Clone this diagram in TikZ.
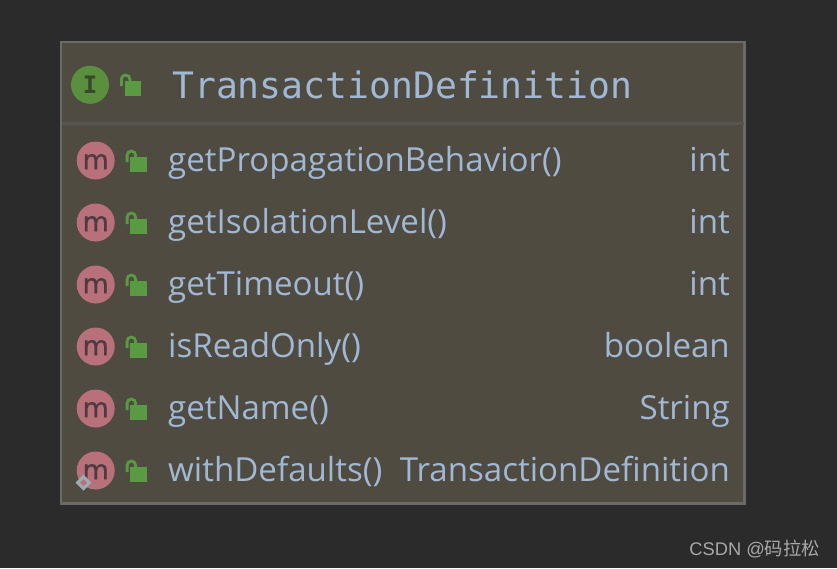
\documentclass[tikz,border=0pt]{standalone}
\usepackage{fontspec}
\usetikzlibrary{shapes.geometric}
\setmainfont{Open Sans}
\newfontfamily\titlefont{DejaVu Sans Mono}
\newfontfamily\badgefont[FakeBold=0.6]{DejaVu Sans}
\newfontfamily\wmfont{Liberation Sans}
\newfontfamily\cjkfont{Noto Sans CJK SC}
\definecolor{pagebg}{HTML}{2B2B2B}
\definecolor{panelbg}{HTML}{4F4B41}
\definecolor{panelline}{HTML}{6A6B66}
\definecolor{sepline}{HTML}{555652}
\definecolor{txt}{HTML}{A0B8D4}
\definecolor{igreen}{HTML}{5A8F3E}
\definecolor{idark}{HTML}{38482E}
\definecolor{mpink}{HTML}{B8707A}
\definecolor{mdark}{HTML}{4F3B3F}
\definecolor{lockgreen}{HTML}{5A9A42}
\definecolor{wm}{HTML}{A8A8A8}
\definecolor{diam}{HTML}{9FABB3}
\tikzset{
  x=1pt,y=-1pt,
  rowtext/.style={inner sep=0pt,text=txt,font=\fontsize{33.1}{33}\selectfont,anchor=base west},
  rowtype/.style={inner sep=0pt,text=txt,font=\fontsize{33.1}{33}\selectfont,anchor=base east},
  mbadge/.style={circle,fill=mpink,minimum size=38pt,inner sep=0pt,text=mdark},
  lock/.pic={
    \fill[lockgreen] (-4.5,-3.7) rectangle (12.3,10.5);
    \draw[lockgreen,line width=2.8pt] (-7.6,1.2) -- (-7.6,-5.75) arc[start angle=180,end angle=0,x radius=4.25,y radius=-4.25] -- (0.9,-2);
  }
}
\newcommand{\methodrow}[4]{%
  \node[mbadge] (m#1) at (95.7,#2-0.5) {};
  \node[inner sep=0pt,anchor=base,text=mdark,font=\badgefont\fontsize{27}{27}\selectfont] (mt#1) at (95.7,#2+8.2) {m};
  \pic at (134.7,#2) {lock};
  \node[rowtext] (n#1) at (168,#2+10.8) {#3};
  \node[rowtype] (t#1) at (730,#2+10.8) {#4};
}
\begin{document}
\begin{tikzpicture}
\fill[pagebg] (0,0) rectangle (837,568);
\useasboundingbox (0,0) rectangle (837,568);
\node[draw=panelline,fill=panelbg,line width=2.5pt,outer sep=0pt,minimum width=683.5pt,minimum height=461.5pt,inner sep=0pt,anchor=north west] (panel) at (61,42) {};
\draw[sepline,line width=2.5pt] (62,123.5) -- (744,123.5);
\node[circle,fill=igreen,minimum size=38pt,inner sep=0pt,text=idark,font=\titlefont\bfseries\fontsize{24}{24}\selectfont] (ibadge) at (90,84.8) {I};
\pic at (129,85) {lock};
\node[inner sep=0pt,anchor=base west,text=txt,font=\titlefont\fontsize{36.4}{36}\selectfont] (title) at (172,98) {TransactionDefinition};
\methodrow{1}{161}{getPropagationBehavior()}{int}
\methodrow{2}{223}{getIsolationLevel()}{int}
\methodrow{3}{285}{getTimeout()}{int}
\methodrow{4}{347}{isReadOnly()}{boolean}
\methodrow{5}{409}{getName()}{String}
\methodrow{6}{471}{withDefaults()}{TransactionDefinition}
\node[diamond,draw=diam,line width=3pt,fill=mpink,minimum size=13pt,inner sep=0pt] (dia) at (83.5,482.5) {};
\node[inner sep=0pt,anchor=base east,text=wm,font=\wmfont\fontsize{18.3}{20}\selectfont] (wmark) at (820,555) {CSDN @{\cjkfont 码拉松}};
\end{tikzpicture}
\end{document}
